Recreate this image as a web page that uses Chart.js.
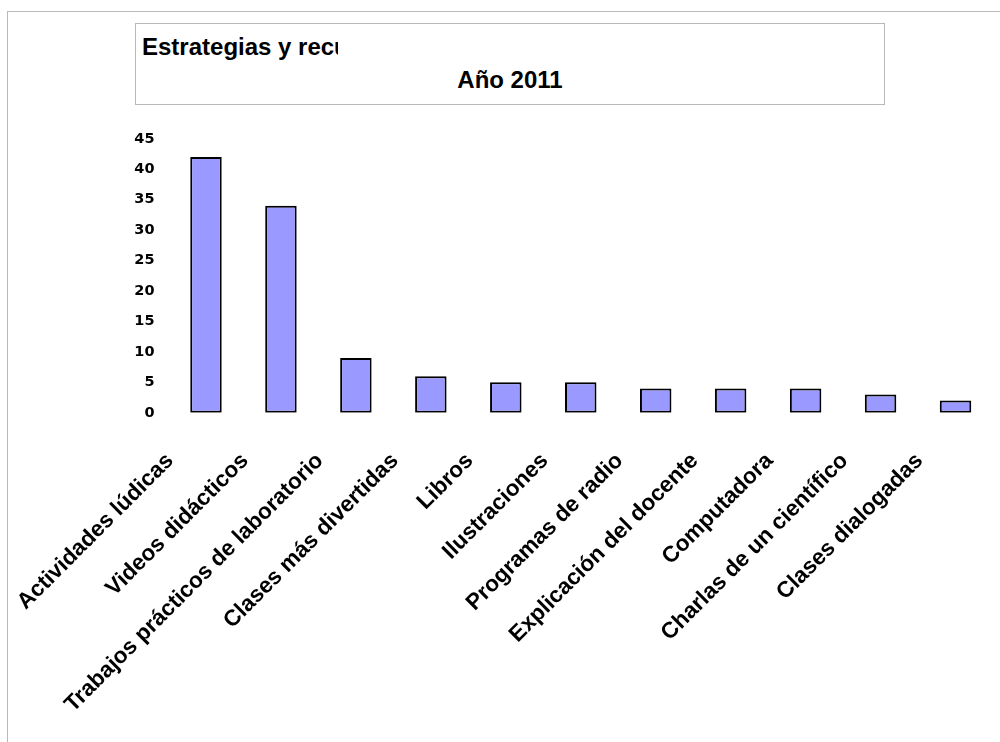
<!DOCTYPE html>
<html>
<head>
<meta charset="utf-8">
<script src="https://cdn.jsdelivr.net/npm/chart.js@4/dist/chart.umd.min.js"></script>
<style>
  html, body { margin: 0; padding: 0; background: #fff; }
  #page { position: relative; width: 1000px; height: 742px; overflow: hidden; }
  #frame { position: absolute; left: 7px; top: 11px; width: 1000px; height: 800px; border-left: 1px solid #b8b8b8; border-top: 1px solid #b8b8b8; }
  #titlebox { position: absolute; left: 135px; top: 23px; width: 748px; height: 80px; border: 1px solid #b8b8b8; }
  #title1 { position: absolute; left: 6px; top: 9px; width: 196px; overflow: hidden; white-space: nowrap;
            font: bold 24px "Liberation Sans", Arial, sans-serif; color: #000; }
  #title2 { position: absolute; left: 0; top: 42px; width: 100%; text-align: center;
            font: bold 24px "Liberation Sans", Arial, sans-serif; color: #000; }
  #wrap { position: absolute; left: 0; top: 0; width: 1000px; height: 742px; }
</style>
</head>
<body>
<div id="page">
  <div id="frame"></div>
  <div id="titlebox">
    <div id="title1">Estrategias y recursos</div>
    <div id="title2">Año 2011</div>
  </div>
  <div id="wrap"><canvas id="chart"></canvas></div>
</div>
<script>
const categories = ['Actividades lúdicas', 'Videos didácticos', 'Trabajos prácticos de laboratorio',
    'Clases más divertidas', 'Libros', 'Ilustraciones', 'Programas de radio',
    'Explicación del docente', 'Computadora', 'Charlas de un científico', 'Clases dialogadas'];
const values = [42, 34, 9, 6, 5, 5, 4, 4, 4, 3, 2];
const yMin = 0;
const yMax = 45;
const yStep = 5;

let chart = new Chart(document.querySelector('#chart'), {
    type: 'bar',
    data: {
        labels: categories,
        datasets: [{
            data: values,
            backgroundColor: '#9999ff',
            borderColor: '#000000',
            borderWidth: 2,
            borderSkipped: false,
            barPercentage: 0.42,
            categoryPercentage: 1
        }]
    },
    options: {
        responsive: true,
        maintainAspectRatio: false,
        animation: false,
        layout: { padding: { left: 128.5, right: 7, top: 138.8, bottom: 0 } },
        plugins: { legend: { display: false }, tooltip: { enabled: false } },
        scales: {
            x: {
                grid: { display: false, drawTicks: false },
                border: { display: false },
                afterFit: (s) => { s.height = 329.2; s.paddingLeft = 0; s.paddingRight = 0; },
                ticks: {
                    autoSkip: false,
                    minRotation: 45,
                    maxRotation: 45,
                    labelOffset: -36,
                    padding: 35,
                    color: '#000',
                    font: { family: '"Liberation Sans", Arial, sans-serif', size: 22.5, weight: 'bold' }
                }
            },
            y: {
                min: yMin,
                max: yMax,
                grid: { display: false, drawTicks: false },
                border: { display: false },
                afterFit: (s) => { s.width = 40; },
                ticks: {
                    stepSize: yStep,
                    padding: 14,
                    color: '#000',
                    font: { family: '"DejaVu Sans", sans-serif', size: 14.5, weight: 'bold' }
                }
            }
        }
    }
});
</script>
</body>
</html>
